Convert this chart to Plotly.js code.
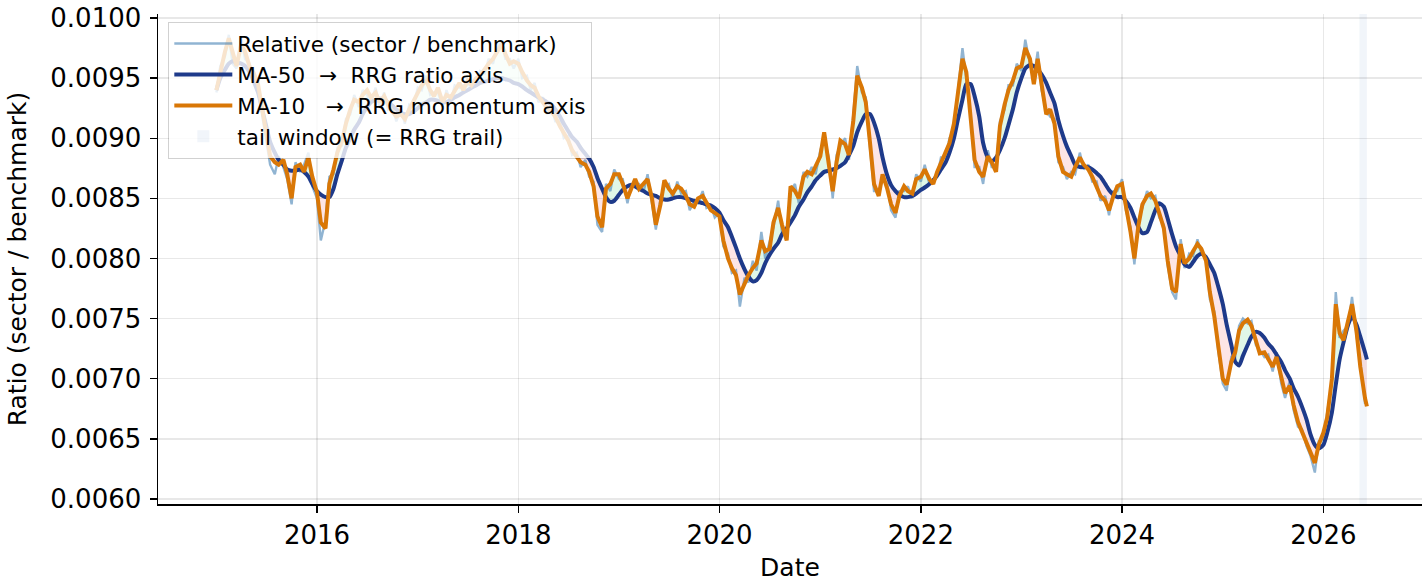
<!DOCTYPE html>
<html>
<head>
<meta charset="utf-8">
<script src="https://cdn.plot.ly/plotly-3.0.1.min.js"></script>
<style>
html,body{margin:0;padding:0;background:#fff;}
#chart{width:1422px;height:582px;}
</style>
</head>
<body>
<div id="chart"></div>
<script>
// ---- sampling dates: 1st and 15th of each month, 2015-01 .. 2026-06, plus last bar ----
const firstYear = 2015, lastYear = 2026, lastMonth = 6;
const sampleDays = ['01', '15'];
const lastDate = '2026-06-08';
const dates = [];
for (let y = firstYear; y <= lastYear; y++) {
  for (let m = 1; m <= 12; m++) {
    for (const d of sampleDays) {
      if (y === lastYear && (m > lastMonth || (m === lastMonth && d === '15'))) continue;
      dates.push(y + '-' + String(m).padStart(2, '0') + '-' + d);
    }
  }
}
dates.push(lastDate);

// ---- relative ratio (sector / benchmark) ----
const relative = [
 .00938,.00960,.00968,.00986,.00962,.00958,.00984,.00966,.00962,.00950,.00940,.00920,.00895,.00878,.00870,.00885,.00876,.00866,.00845,.00880,.00872,.00878,.00888,.00860,
 .00850,.00815,.00832,.00868,.00870,.00892,.00894,.00916,.00920,.00936,.00926,.00940,.00936,.00930,.00942,.00926,.00938,.00924,.00926,.00914,.00924,.00912,.00928,.00926,
 .00942,.00940,.00952,.00936,.00938,.00938,.00926,.00940,.00930,.00944,.00942,.00944,.00944,.00948,.00946,.00956,.00954,.00966,.00962,.00976,.00980,.00966,.00966,.00958,
 .00966,.00950,.00952,.00940,.00946,.00930,.00934,.00920,.00926,.00914,.00914,.00900,.00902,.00886,.00888,.00876,.00882,.00868,.00864,.00828,.00822,.00862,.00856,.00874,
 .00866,.00866,.00846,.00862,.00862,.00862,.00856,.00870,.00846,.00824,.00850,.00860,.00862,.00850,.00864,.00854,.00856,.00840,.00848,.00846,.00856,.00842,.00844,.00834,
 .00838,.00810,.00804,.00788,.00790,.00760,.00784,.00780,.00798,.00790,.00822,.00800,.00814,.00826,.00848,.00822,.00820,.00856,.00862,.00846,.00872,.00868,.00876,.00870,
 .00890,.00900,.00884,.00850,.00886,.00894,.00900,.00882,.00920,.00960,.00938,.00934,.00890,.00856,.00856,.00866,.00862,.00840,.00834,.00856,.00856,.00860,.00850,.00870,
 .00864,.00878,.00862,.00866,.00868,.00884,.00884,.00900,.00908,.00940,.00975,.00950,.00918,.00876,.00876,.00862,.00890,.00876,.00876,.00914,.00924,.00944,.00944,.00962,
 .00956,.00982,.00962,.00950,.00972,.00940,.00924,.00918,.00916,.00880,.00876,.00866,.00872,.00870,.00888,.00874,.00878,.00864,.00864,.00848,.00852,.00836,.00856,.00856,
 .00866,.00840,.00826,.00795,.00832,.00842,.00856,.00850,.00852,.00834,.00828,.00794,.00772,.00766,.00816,.00792,.00804,.00802,.00816,.00804,.00802,.00766,.00756,.00724,
 .00696,.00690,.00718,.00718,.00744,.00750,.00746,.00748,.00728,.00724,.00718,.00720,.00706,.00722,.00696,.00684,.00698,.00674,.00660,.00658,.00644,.00636,.00622,.00648,
 .00650,.00672,.00698,.00772,.00734,.00740,.00744,.00768,.00736,.00714,.00680,.00680
];

// ---- MA-50 (RRG ratio axis) ----
const ma50 = [
 .00940,.00950,.00957,.00962,.00964,.00963,.00962,.00960,.00955,.00948,.00938,.00925,.00910,.00897,.00888,.00882,.00878,.00874,.00873,.00873,.00874,.00872,.00868,.00862,
 .00856,.00853,.00851,.00851,.00858,.00870,.00882,.00892,.00900,.00907,.00913,.00920,.00926,.00930,.00932,.00933,.00932,.00930,.00927,.00924,.00921,.00920,.00920,.00922,
 .00925,.00928,.00930,.00932,.00932,.00931,.00930,.00930,.00932,.00934,.00936,.00938,.00940,.00942,.00944,.00946,.00947,.00948,.00949,.00950,.00950,.00949,.00948,.00946,
 .00945,.00943,.00940,.00938,.00936,.00934,.00932,.00930,.00928,.00924,.00918,.00912,.00906,.00901,.00897,.00892,.00887,.00883,.00876,.00867,.00858,.00851,.00847,.00848,
 .00853,.00857,.00860,.00861,.00860,.00858,.00856,.00854,.00853,.00852,.00850,.00849,.00849,.00850,.00851,.00851,.00850,.00849,.00848,.00847,.00846,.00845,.00844,.00842,
 .00838,.00832,.00826,.00818,.00809,.00800,.00791,.00785,.00781,.00782,.00788,.00796,.00803,.00808,.00813,.00820,.00825,.00830,.00836,.00843,.00849,.00855,.00860,.00865,
 .00869,.00872,.00873,.00874,.00875,.00877,.00880,.00886,.00894,.00905,.00914,.00920,.00920,.00913,.00900,.00884,.00869,.00861,.00856,.00853,.00851,.00851,.00852,.00854,
 .00857,.00859,.00862,.00865,.00869,.00874,.00880,.00888,.00900,.00915,.00932,.00945,.00945,.00935,.00918,.00896,.00884,.00881,.00884,.00890,.00900,.00911,.00924,.00938,
 .00950,.00958,.00961,.00960,.00957,.00953,.00946,.00938,.00929,.00915,.00902,.00893,.00885,.00878,.00876,.00876,.00876,.00874,.00871,.00868,.00862,.00857,.00853,.00851,
 .00851,.00848,.00842,.00834,.00826,.00821,.00822,.00830,.00840,.00846,.00843,.00833,.00820,.00810,.00802,.00795,.00793,.00797,.00802,.00804,.00801,.00795,.00788,.00777,
 .00762,.00745,.00728,.00714,.00711,.00719,.00728,.00735,.00739,.00738,.00734,.00729,.00725,.00720,.00714,.00707,.00700,.00692,.00685,.00677,.00666,.00654,.00645,.00642,
 .00645,.00655,.00672,.00695,.00716,.00730,.00745,.00752,.00745,.00735,.00722,.00716
];

// ---- MA-10 (RRG momentum axis) ----
const ma10 = [
 .00940,.00955,.00972,.00983,.00970,.00960,.00978,.00972,.00960,.00955,.00945,.00925,.00905,.00885,.00880,.00878,.00882,.00870,.00850,.00876,.00878,.00872,.00884,.00868,
 .00855,.00830,.00825,.00862,.00874,.00888,.00898,.00912,.00924,.00932,.00930,.00936,.00940,.00934,.00938,.00930,.00935,.00928,.00922,.00918,.00920,.00916,.00924,.00930,
 .00938,.00944,.00948,.00940,.00935,.00942,.00930,.00936,.00934,.00940,.00946,.00940,.00948,.00944,.00950,.00952,.00958,.00962,.00966,.00972,.00978,.00970,.00962,.00964,
 .00962,.00955,.00948,.00944,.00942,.00935,.00930,.00925,.00922,.00918,.00910,.00904,.00898,.00890,.00884,.00880,.00878,.00872,.00860,.00835,.00826,.00858,.00862,.00870,
 .00870,.00862,.00850,.00858,.00866,.00858,.00862,.00866,.00850,.00828,.00845,.00865,.00858,.00854,.00860,.00858,.00852,.00845,.00843,.00850,.00852,.00846,.00840,.00838,
 .00835,.00815,.00800,.00792,.00786,.00770,.00780,.00786,.00792,.00796,.00815,.00806,.00808,.00830,.00842,.00828,.00815,.00860,.00856,.00850,.00868,.00872,.00870,.00876,
 .00885,.00905,.00880,.00856,.00880,.00898,.00895,.00886,.00915,.00952,.00942,.00930,.00895,.00862,.00852,.00870,.00858,.00845,.00838,.00852,.00860,.00856,.00854,.00866,
 .00868,.00874,.00866,.00862,.00872,.00880,.00888,.00896,.00912,.00935,.00966,.00955,.00912,.00882,.00872,.00868,.00885,.00880,.00872,.00910,.00928,.00940,.00948,.00958,
 .00960,.00975,.00966,.00945,.00966,.00945,.00920,.00924,.00912,.00885,.00872,.00870,.00868,.00876,.00884,.00878,.00874,.00868,.00860,.00852,.00848,.00840,.00852,.00860,
 .00862,.00845,.00822,.00800,.00828,.00845,.00852,.00854,.00848,.00838,.00825,.00798,.00775,.00772,.00812,.00796,.00800,.00806,.00812,.00808,.00798,.00772,.00752,.00728,
 .00700,.00695,.00714,.00722,.00740,.00746,.00749,.00744,.00732,.00721,.00722,.00716,.00710,.00718,.00700,.00688,.00694,.00678,.00664,.00656,.00648,.00640,.00630,.00645,
 .00655,.00668,.00700,.00762,.00738,.00732,.00748,.00762,.00740,.00710,.00684,.00677
];

// ---- tail window (= RRG trail) ----
const tailStart = '2026-05-12';
const tailEnd = '2026-06-08';

// ---- labels ----
const yTicks = [0.0060,0.0065,0.0070,0.0075,0.0080,0.0085,0.0090,0.0095,0.0100];
const names = ['Relative (sector / benchmark)', 'MA-50  \u2192  RRG ratio axis', 'MA-10   \u2192  RRG momentum axis', 'tail window (= RRG trail)'];

if (relative.length !== dates.length || ma50.length !== dates.length || ma10.length !== dates.length) {
  console.error('length mismatch', dates.length, relative.length, ma50.length, ma10.length);
}

// ---- shaded areas between MA-10 and MA-50 ----
const tms = dates.map(d => new Date(d + 'T00:00:00Z').getTime());
const fillTraces = [];
function flush(sx, s10, s50, up) {
  if (sx.length < 2) return;
  fillTraces.push({
    x: sx.concat(sx.slice().reverse()),
    y: s10.concat(s50.slice().reverse()),
    type: 'scatter', mode: 'lines', fill: 'toself',
    fillcolor: up ? 'rgba(34,197,94,0.14)' : 'rgba(239,68,68,0.14)',
    line: {width: 0}, hoverinfo: 'skip', showlegend: false
  });
}
(function () {
  let sx = [], s10 = [], s50 = [], sign = null;
  for (let i = 0; i < tms.length; i++) {
    const s = ma10[i] >= ma50[i];
    if (sign !== null && s !== sign) {
      const d0 = ma10[i-1] - ma50[i-1], d1 = ma10[i] - ma50[i];
      const f = d0 / (d0 - d1);
      const tc = tms[i-1] + f * (tms[i] - tms[i-1]);
      const yc = ma50[i-1] + f * (ma50[i] - ma50[i-1]);
      sx.push(tc); s10.push(yc); s50.push(yc);
      flush(sx, s10, s50, sign);
      sx = [tc]; s10 = [yc]; s50 = [yc];
    }
    sign = s;
    sx.push(tms[i]); s10.push(ma10[i]); s50.push(ma50[i]);
  }
  flush(sx, s10, s50, sign);
})();

const font = 'DejaVu Sans, Arial, sans-serif';
const traces = fillTraces.concat([
  {x: dates, y: relative, type: 'scatter', mode: 'lines', name: names[0],
   line: {color: 'rgba(70,130,180,0.6)', width: 2.4}, legendrank: 1, legendgroup: 'a'},
  {x: dates, y: ma50, type: 'scatter', mode: 'lines', name: names[1],
   line: {color: '#1e3a8a', width: 4, shape: 'spline', smoothing: 0.6}, legendrank: 2, legendgroup: 'b'},
  {x: dates, y: ma10, type: 'scatter', mode: 'lines', name: names[2],
   line: {color: '#d97706', width: 4}, legendrank: 3, legendgroup: 'c'}
]);

const axisCommon = {
  showline: true, linecolor: '#000', linewidth: 1.5, mirror: false,
  ticks: 'outside', ticklen: 7, tickwidth: 1.4, tickcolor: '#000',
  showgrid: true, gridcolor: 'rgba(0,0,0,0.09)', gridwidth: 1.4,
  zeroline: false, tickfont: {family: font, size: 26, color: '#000'}
};

const layout = {
  width: 1422, height: 582,
  margin: {l: 158, r: 0, t: 14, b: 78},
  paper_bgcolor: '#fff', plot_bgcolor: '#fff',
  font: {family: font, color: '#000'},
  showlegend: true,
  legend: {
    x: 0.008, y: 0.984, xanchor: 'left', yanchor: 'top',
    bgcolor: 'rgba(255,255,255,0.8)', bordercolor: 'rgba(0,0,0,0.18)', borderwidth: 1.2,
    font: {family: font, size: 21.5, color: '#000'}, tracegroupgap: 0, itemwidth: 58
  },
  xaxis: Object.assign({}, axisCommon, {
    type: 'date', range: ['2014-06-03', '2026-12-25'],
    dtick: 'M24', tick0: '2016-01-01', tickformat: '%Y',
    title: {text: 'Date', font: {family: font, size: 25, color: '#000'}, standoff: 12}
  }),
  yaxis: Object.assign({}, axisCommon, {
    range: [0.005958, 0.010033], tickvals: yTicks, tickformat: '.4f', ticklabelstandoff: 3,
    title: {text: 'Ratio (sector / benchmark)', font: {family: font, size: 25, color: '#000'}, standoff: 16}
  }),
  shapes: [{
    type: 'rect', xref: 'x', yref: 'paper', x0: tailStart, x1: tailEnd, y0: 0, y1: 1,
    fillcolor: 'rgba(100,140,200,0.09)', line: {width: 0}, layer: 'below',
    showlegend: true, name: names[3], legendrank: 4, legendgroup: 'd'
  }]
};

Plotly.newPlot('chart', traces, layout, {displayModeBar: false, staticPlot: true});
</script>
</body>
</html>
